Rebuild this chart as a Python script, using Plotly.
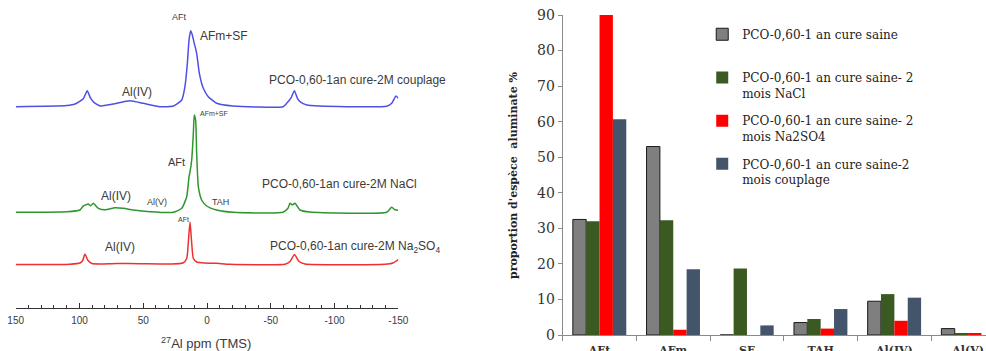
import plotly.graph_objects as go

# ---------------- NMR spectra (left panel) ----------------
ppm_couplage = [150, 110, 103.5, 97, 93.9, 91.5, 89.2, 86, 83.9, 73.5, 60.4, 50, 37, 26.4, 19.8, 17.3, 15.4, 14.1,
                12.8, 11.5, 10.0, 8.1, 6.0, 2.9, -1.0, -7.6, -20.4, -59.6, -62.5, -66, -68.5, -71, -72.9, -78.2,
                -140.9, -144.8, -148.2, -150]
int_couplage = [0, 1.2, 2.7, 8, 16, 9, 5, 2, 0.7, 2.7, 6, 3.4, 0, 0.7, 6.7, 20, 43.4, 66.7,
                76, 71.7, 63.4, 53.4, 33.4, 18.4, 10, 3.4, 0.7, 0, 3.4, 9, 16, 8, 5, 1.7,
                0.5, 3.4, 10.7, 8.4]

ppm_nacl = [150, 110, 99.6, 97.2, 93.1, 91.2, 89.2, 85.2, 80, 72.1, 65.6, 57.8, 44.7, 26.4, 19.8, 15.9, 14.1,
            13.3, 12.0, 10.7, 10.0, 8.9, 8.1, 6.8, 4.2, 0.2, -7.6, -20.6, -59.6, -63.5, -65.1, -67, -69, -72.9,
            -80.8, -140.9, -144.8, -147.4, -150]
int_nacl = [0, 0.5, 2.3, 6, 8.3, 6.5, 9, 4, 2.5, 4.6, 4, 2.3, 0.6, 0, 4, 15.6, 35.6,
            40.6, 52.3, 79, 97.3, 92, 59, 25.6, 12.3, 6.3, 2.3, 0, 0, 4, 9, 7.5, 9, 2.3,
            0.3, 0, 5, 2.5, 2]

ppm_na2so4 = [150, 107.4, 99.6, 97.5, 95.7, 93.3, 90.2, 83.9, 70.8, 52.5, 29, 18.8, 15.9, 14.5, 13.3, 12.2,
              10.7, 8.1, 1.6, -7.6, -18, -61.2, -65.1, -68.6, -72.1, -76.8, -139.5, -145.8, -150]
int_na2so4 = [0, 0.3, 1.5, 4, 10.5, 4, 1, 0.5, 1, 0.8, 0.5, 1.5, 6, 25, 42.5, 25,
              6, 2.5, 1.5, 1.2, 0.3, 0.3, 3, 10, 3, 0.5, 0.3, 1.5, 5]

# vertical stacking offsets of the three spectra (layout)
OFF_COUPLAGE, OFF_NACL, OFF_NA2SO4 = 201.3, 95.7, 43.5

ppm_ticks = [150, 100, 50, 0, -50, -100, -150]
ppm_ticktext = ["150", "100", "50", "0", "-50", "-100", "-150"]

# ---------------- bar chart (right panel) ----------------
categories = ["AFt", "AFm", "SF", "TAH", "Al(IV)", "Al(V)"]
saine = [32.5, 53, 0, 3.5, 9.5, 1.8]
nacl = [32, 32.3, 18.7, 4.5, 11.5, 0.4]
na2so4 = [90, 1.5, 0, 1.8, 4, 0.4]
couplage = [60.7, 18.5, 2.7, 7.3, 10.5, 0]
series_names = ["PCO-0,60-1 an cure saine<br> ",
                "PCO-0,60-1 an cure saine- 2<br>mois NaCl",
                "PCO-0,60-1 an cure saine- 2<br>mois Na2SO4",
                "PCO-0,60-1 an cure saine-2<br>mois couplage"]
y_ticks = [0, 10, 20, 30, 40, 50, 60, 70, 80, 90]

fig = go.Figure()

for ppm, inten, off, col in [(ppm_couplage, int_couplage, OFF_COUPLAGE, "#4F4FE6"),
                             (ppm_nacl, int_nacl, OFF_NACL, "#2F962F"),
                             (ppm_na2so4, int_na2so4, OFF_NA2SO4, "#F03030")]:
    fig.add_trace(go.Scatter(x=ppm, y=[off + v for v in inten], mode="lines",
                             line=dict(color=col, width=1.5, shape="spline", smoothing=0.5),
                             xaxis="x", yaxis="y", showlegend=False, hoverinfo="skip"))

bar_specs = [(saine, "#7F7F7F", dict(color="#1a1a1a", width=1)),
             (nacl, "#3B5A22", dict(width=0)),
             (na2so4, "#FF0000", dict(width=0)),
             (couplage, "#44546A", dict(width=0))]
for i, (vals, col, ln) in enumerate(bar_specs):
    fig.add_trace(go.Bar(x=categories, y=vals, name=series_names[i], marker=dict(color=col, line=ln),
                         xaxis="x2", yaxis="y2", legendgroup=str(i)))

lab = dict(family="Liberation Sans, Arial", color="#3a3a3a")
ann = []
def add(text, x, y, size, anchor="center"):
    ann.append(dict(text=text, x=x, y=y, xref="x", yref="y", showarrow=False, xanchor=anchor,
                    yanchor="middle", font=dict(size=size, **lab)))

add("AFt", 21.2, 291, 9)
add("AFm+SF", 7.1, 272, 12, "left")
add("Al(IV)", 55.1, 216.3, 12)
add("PCO-0,60-1an cure-2M couplage", -46.8, 228, 12, "left")
add("AFm+SF", 7.1, 194.7, 7, "left")
add("AFt", 24.3, 146.3, 11)
add("Al(IV)", 71.4, 112, 12)
add("Al(V)", 39.4, 106.3, 9)
add("TAH", -10.2, 106.3, 9)
add("PCO-0,60-1an cure-2M NaCl", -41.6, 123.7, 12, "left")
add("AFt", 18.8, 89, 7)
add("Al(IV)", 68.2, 61.3, 12)
add("PCO-0,60-1an cure-2M Na<sub>2</sub>SO<sub>4</sub>", -47.8, 61.3, 12, "left")

ann.append(dict(text="<sup>27</sup>Al ppm (TMS)", x=206 / 986, y=-0.025, xref="paper", yref="paper",
                showarrow=False, xanchor="center", yanchor="middle", font=dict(size=13, **lab)))
ann.append(dict(text="<b>proportion d'espèce  aluminate %</b>", x=513 / 986, y=0.5, xref="paper", yref="paper",
                showarrow=False, textangle=-90, xanchor="center", yanchor="middle",
                font=dict(family="DejaVu Serif", size=11, color="#222")))

fig.update_layout(
    template="none",
    width=986, height=351, margin=dict(l=0, r=0, t=15, b=16, autoexpand=False),
    paper_bgcolor="white", plot_bgcolor="white",
    barmode="group", bargap=0.275, bargroupgap=0,
    annotations=ann,
    xaxis=dict(domain=[15.7 / 986, 398.3 / 986], range=[150, -150], anchor="y", automargin=False,
               tickmode="array", tickvals=ppm_ticks, ticktext=ppm_ticktext,
               ticks="inside", ticklen=5, tickcolor="#333", showline=True, linecolor="#333", linewidth=1,
               minor=dict(tickmode="linear", tick0=0, dtick=10, ticks="inside", ticklen=3, tickcolor="#333"),
               showgrid=False, zeroline=False, ticklabelstandoff=3, tickfont=dict(size=10, **lab)),
    yaxis=dict(domain=[0.084375, 1], range=[0, 293], anchor="x", visible=False, automargin=False),
    xaxis2=dict(domain=[562.7 / 986, 1], anchor="y2", type="category", range=[-0.5, 5.243], automargin=False,
                showline=True, linecolor="#8a8a8a", linewidth=1, ticks="outside", tickson="boundaries", ticklen=5,
                tickcolor="#8a8a8a", showgrid=False, ticklabelstandoff=5,
                tickfont=dict(family="DejaVu Serif", size=11, color="#333", weight="bold")),
    yaxis2=dict(domain=[0, 1], range=[0, 90], anchor="x2", showline=True, linecolor="#8a8a8a", linewidth=1,
                ticks="outside", ticklen=4, tickcolor="#8a8a8a", tickmode="array", tickvals=y_ticks,
                showgrid=False, zeroline=False, automargin=False,
                tickfont=dict(family="DejaVu Serif", size=14, color="#333")),
    legend=dict(x=0.7122, y=0.9845, xanchor="left", yanchor="top", xref="paper", yref="paper",
                font=dict(family="DejaVu Serif", size=12, color="#222"), bgcolor="rgba(0,0,0,0)",
                borderwidth=0, valign="top", traceorder="grouped", tracegroupgap=9),
)

fig.write_html("out.html", config={"displayModeBar": False},
               post_script="document.body.style.margin='0';document.body.style.overflow='hidden';")
